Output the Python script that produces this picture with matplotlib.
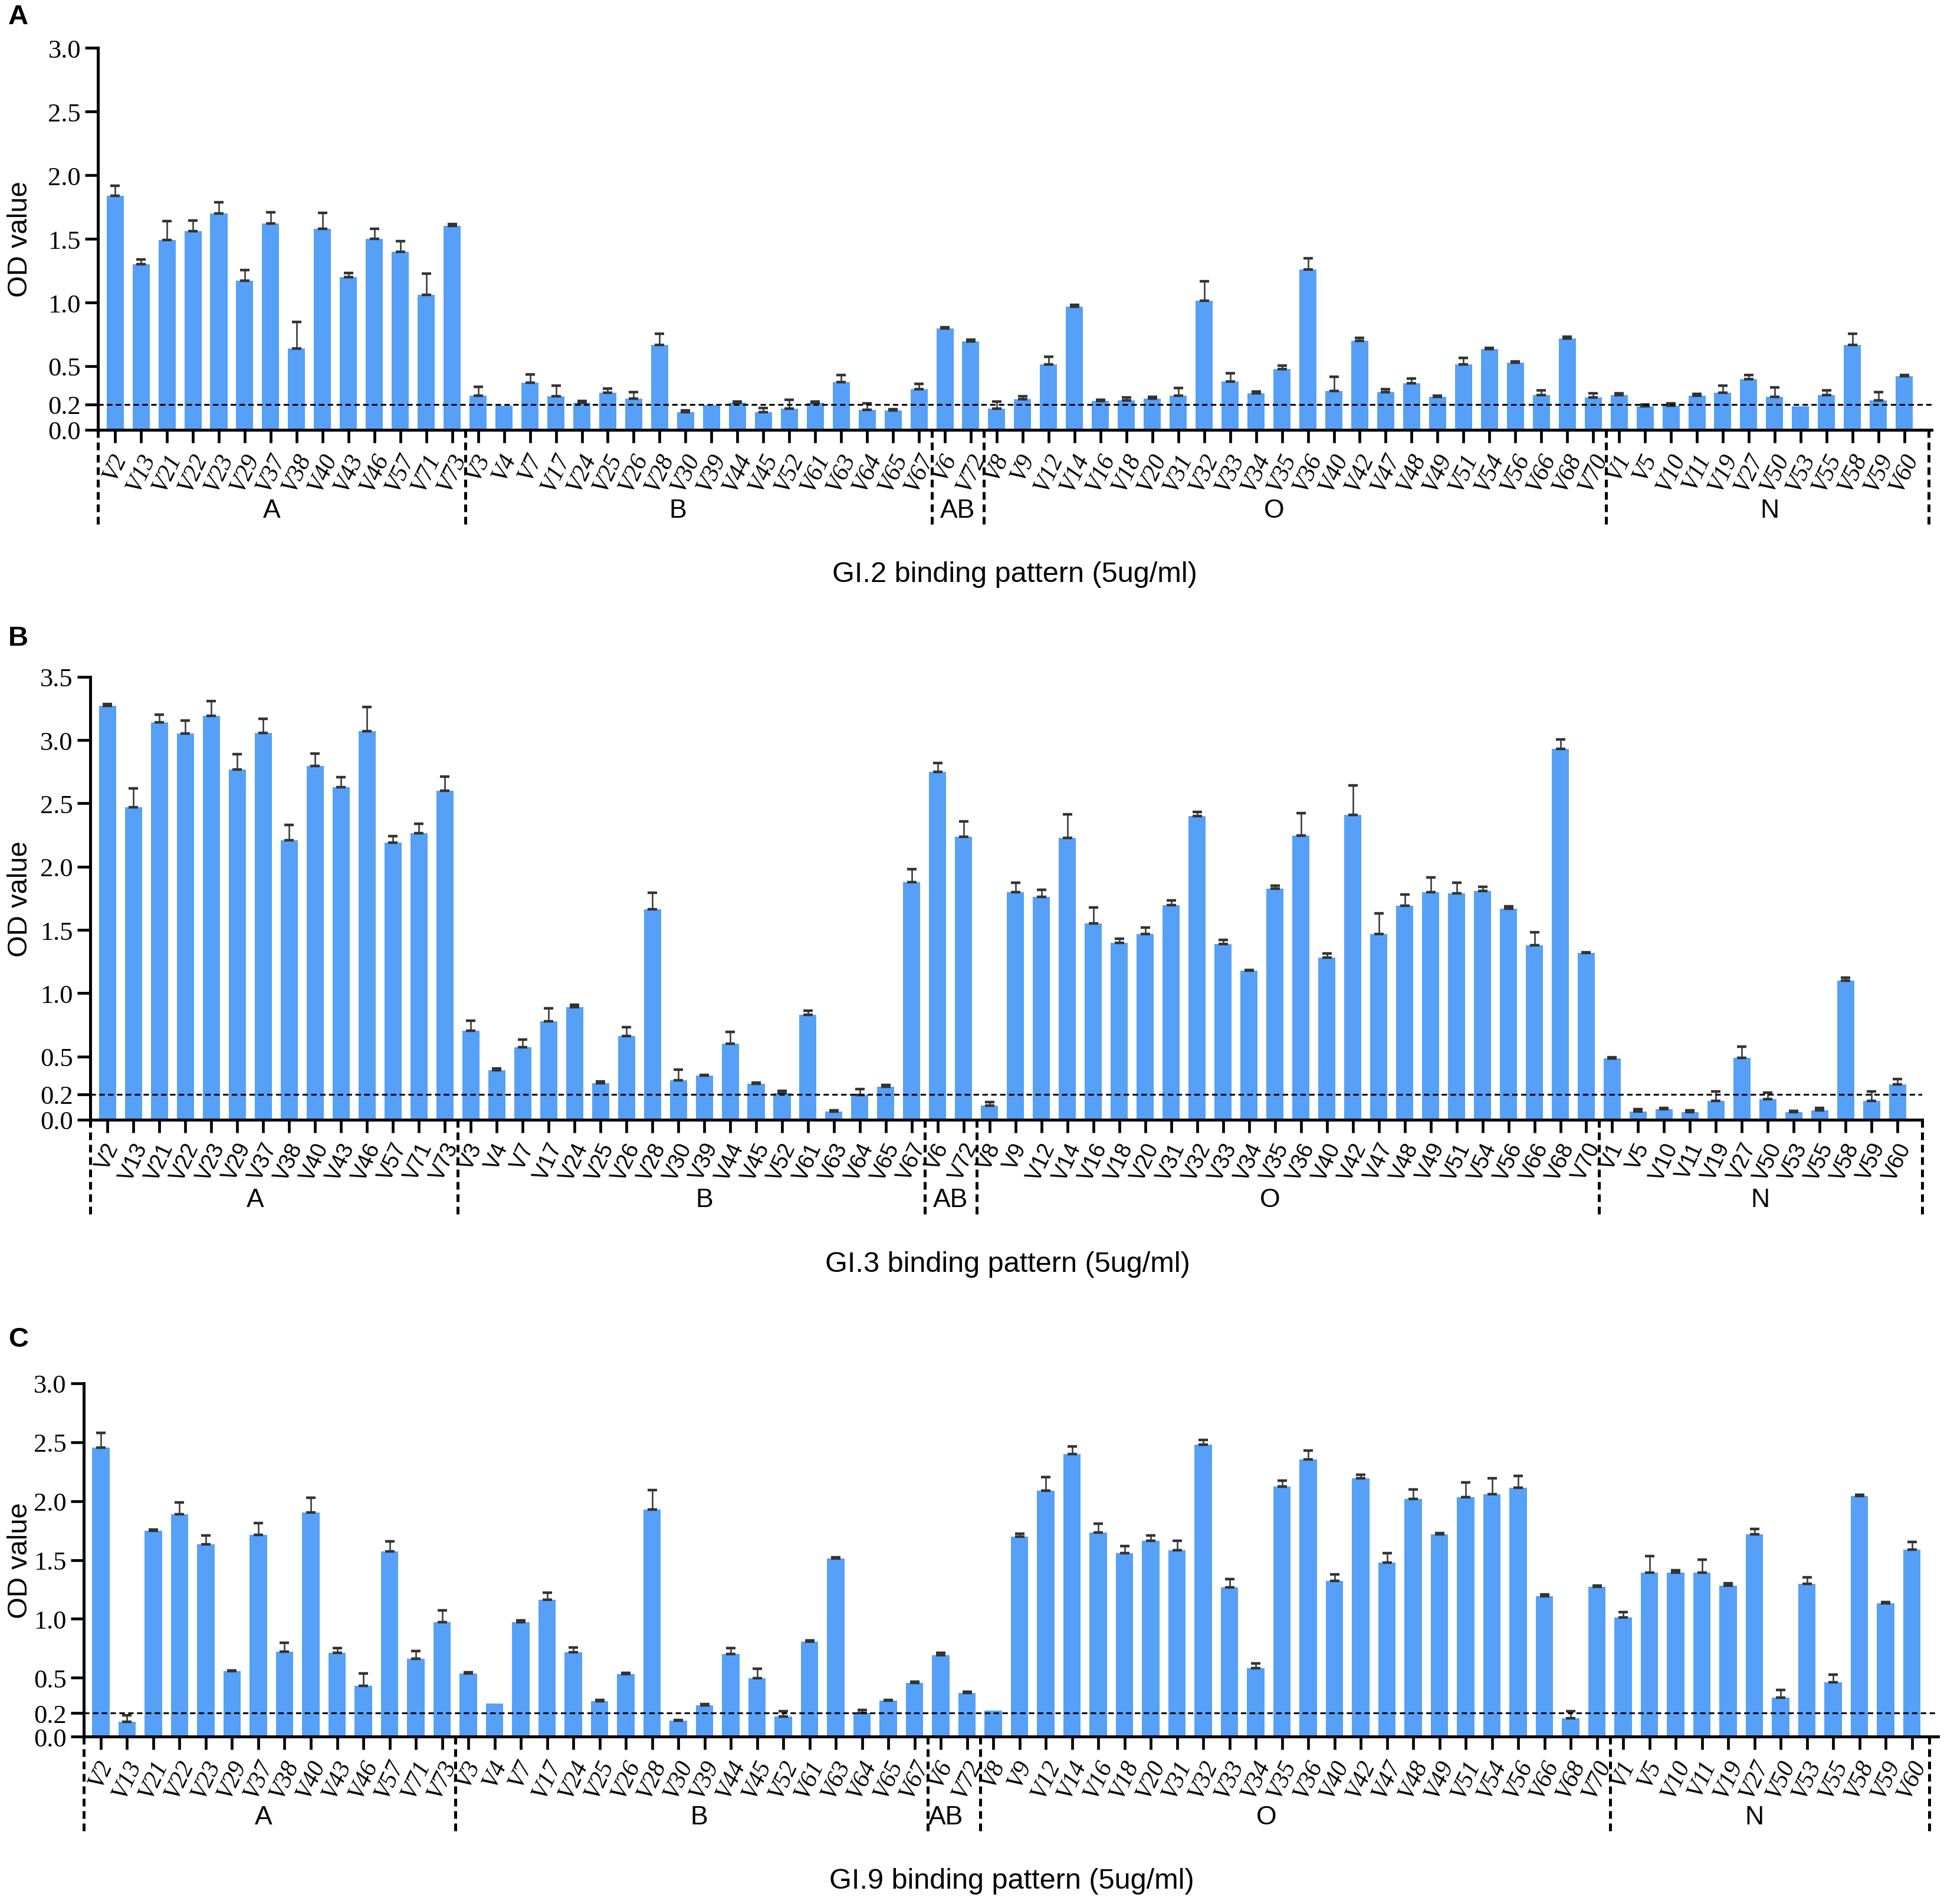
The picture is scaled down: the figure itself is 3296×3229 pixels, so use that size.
import numpy as np
import matplotlib
matplotlib.use('Agg')
import matplotlib.pyplot as plt

# 70 strains, grouped by blood type
labels = ['V2', 'V13', 'V21', 'V22', 'V23', 'V29', 'V37', 'V38', 'V40', 'V43', 'V46', 'V57', 'V71', 'V73',
          'V3', 'V4', 'V7', 'V17', 'V24', 'V25', 'V26', 'V28', 'V30', 'V39', 'V44', 'V45', 'V52', 'V61',
          'V63', 'V64', 'V65', 'V67',
          'V6', 'V72',
          'V8', 'V9', 'V12', 'V14', 'V16', 'V18', 'V20', 'V31', 'V32', 'V33', 'V34', 'V35', 'V36', 'V40',
          'V42', 'V47', 'V48', 'V49', 'V51', 'V54', 'V56', 'V66', 'V68', 'V70',
          'V1', 'V5', 'V10', 'V11', 'V19', 'V27', 'V50', 'V53', 'V55', 'V58', 'V59', 'V60']
groups = ['A', 'B', 'AB', 'O', 'N']
group_sizes = [14, 18, 2, 24, 12]

gi2_mean = [1.84, 1.30, 1.49, 1.56, 1.70, 1.17, 1.62, 0.64, 1.58, 1.20, 1.50, 1.40, 1.06, 1.60,
            0.27, 0.19, 0.37, 0.265, 0.215, 0.29, 0.245, 0.665, 0.14, 0.195, 0.213, 0.14, 0.167, 0.213,
            0.374, 0.157, 0.153, 0.318,
            0.795, 0.694,
            0.167, 0.24, 0.514, 0.967, 0.227, 0.233, 0.244, 0.27, 1.014, 0.378, 0.287, 0.477, 1.258, 0.306,
            0.698, 0.295, 0.364, 0.258, 0.514, 0.632, 0.527, 0.274, 0.717, 0.254,
            0.275, 0.186, 0.192, 0.269, 0.292, 0.399, 0.26, 0.186, 0.272, 0.667, 0.23, 0.422]
gi2_err = [0.077, 0.038, 0.147, 0.083, 0.088, 0.086, 0.088, 0.206, 0.124, 0.03, 0.077, 0.08, 0.168, 0.015,
           0.068, 0.0, 0.064, 0.083, 0.01, 0.035, 0.05, 0.09, 0.012, 0.0, 0.01, 0.033, 0.068, 0.01,
           0.058, 0.05, 0.01, 0.045,
           0.012, 0.012,
           0.054, 0.023, 0.058, 0.014, 0.01, 0.023, 0.015, 0.06, 0.153, 0.068, 0.014, 0.027, 0.089, 0.11,
           0.025, 0.025, 0.041, 0.01, 0.05, 0.01, 0.01, 0.036, 0.015, 0.035,
           0.01, 0.012, 0.015, 0.012, 0.053, 0.03, 0.074, 0.0, 0.038, 0.086, 0.065, 0.008]

gi3_mean = [3.27, 2.47, 3.14, 3.05, 3.19, 2.77, 3.055, 2.21, 2.795, 2.63, 3.07, 2.19, 2.265, 2.6,
            0.705, 0.393, 0.575, 0.78, 0.89, 0.288, 0.663, 1.662, 0.314, 0.347, 0.599, 0.283, 0.209, 0.827,
            0.064, 0.195, 0.259, 1.88,
            2.751, 2.235,
            0.109, 1.797, 1.759, 2.225, 1.55, 1.396, 1.467, 1.695, 2.401, 1.386, 1.177, 1.828, 2.244, 1.279,
            2.411, 1.469, 1.69, 1.797, 1.788, 1.807, 1.667, 1.377, 2.932, 1.317,
            0.484, 0.065, 0.082, 0.059, 0.147, 0.487, 0.163, 0.059, 0.075, 1.098, 0.147, 0.278]
gi3_err = [0.017, 0.147, 0.062, 0.106, 0.12, 0.12, 0.116, 0.12, 0.1, 0.079, 0.19, 0.05, 0.072, 0.113,
           0.079, 0.01, 0.058, 0.1, 0.017, 0.014, 0.069, 0.131, 0.081, 0.008, 0.095, 0.008, 0.017, 0.033,
           0.008, 0.048, 0.014, 0.1,
           0.067, 0.124,
           0.029, 0.074, 0.059, 0.188, 0.128, 0.033, 0.052, 0.036, 0.031, 0.033, 0.008, 0.021, 0.178, 0.033,
           0.233, 0.164, 0.09, 0.117, 0.086, 0.033, 0.019, 0.106, 0.072, 0.008,
           0.008, 0.02, 0.01, 0.013, 0.075, 0.092, 0.052, 0.01, 0.02, 0.026, 0.075, 0.042]

gi9_mean = [2.452, 0.128, 1.748, 1.888, 1.632, 0.554, 1.713, 0.723, 1.901, 0.711, 0.429, 1.575, 0.661, 0.974,
            0.536, 0.279, 0.97, 1.16, 0.718, 0.301, 0.532, 1.929, 0.135, 0.266, 0.702, 0.496, 0.17, 0.808,
            1.514, 0.203, 0.305, 0.455,
            0.691, 0.372,
            0.22, 1.698, 2.089, 2.4, 1.734, 1.559, 1.663, 1.584, 2.479, 1.269, 0.581, 2.124, 2.355, 1.323,
            2.195, 1.478, 2.018, 1.719, 2.035, 2.06, 2.114, 1.19, 0.156, 1.274,
            1.014, 1.39, 1.39, 1.39, 1.283, 1.718, 0.329, 1.299, 0.463, 2.041, 1.133, 1.59]
gi9_err = [0.125, 0.053, 0.01, 0.1, 0.075, 0.008, 0.1, 0.075, 0.128, 0.04, 0.106, 0.081, 0.063, 0.1,
           0.008, 0.0, 0.016, 0.063, 0.038, 0.012, 0.008, 0.164, 0.008, 0.008, 0.05, 0.081, 0.044, 0.008,
           0.008, 0.025, 0.008, 0.01,
           0.019, 0.008,
           0.0, 0.027, 0.116, 0.064, 0.075, 0.06, 0.046, 0.079, 0.042, 0.069, 0.042, 0.048, 0.075, 0.054,
           0.031, 0.081, 0.079, 0.01, 0.123, 0.135, 0.1, 0.015, 0.06, 0.008,
           0.044, 0.144, 0.022, 0.113, 0.019, 0.047, 0.066, 0.053, 0.063, 0.01, 0.01, 0.063]

BAR_COLOR = '#56A0F8'
SERIF_IT = dict(family='Liberation Serif', style='italic', size=15)
SANS_TICK = dict(family='Liberation Sans', size=13.5)

panels = [
    dict(letter='A', letter_y=0.991, title='GI.2 binding pattern (5ug/ml)', mean=gi2_mean, err=gi2_err,
         ymax=3.0, rect=[0.0504, 0.774, 0.9432, 0.2006], xlim=(-0.66, 70.05), right_sep=69.93,
         tickfont=SERIF_IT, grp_x=[6.05, 21.7, 32.5, 44.7, 63.8]),
    dict(letter='B', letter_y=0.6647, title='GI.3 binding pattern (5ug/ml)', mean=gi3_mean, err=gi3_err,
         ymax=3.5, rect=[0.0464, 0.4118, 0.9424, 0.2325], xlim=(-0.67, 69.95), right_sep=69.95,
         tickfont=SANS_TICK, grp_x=[5.7, 23.0, 32.5, 44.8, 63.7]),
    dict(letter='C', letter_y=0.2966, title='GI.9 binding pattern (5ug/ml)', mean=gi9_mean, err=gi9_err,
         ymax=3.0, rect=[0.0431, 0.0879, 0.9539, 0.1855], xlim=(-0.65, 70.0), right_sep=69.65,
         tickfont=SERIF_IT, grp_x=[6.2, 22.8, 32.2, 44.4, 63.0]),
]

FIG_W, FIG_H, DPI = 16.48, 16.15, 200
fig = plt.figure(figsize=(FIG_W, FIG_H), dpi=DPI)

x = np.arange(len(labels))
bounds = np.cumsum(group_sizes)[:-1] - 0.5

for p in panels:
    ax = fig.add_axes(p['rect'])
    mean = np.array(p['mean'])
    err = np.array(p['err'])

    ax.bar(x, mean, width=0.66, color=BAR_COLOR, zorder=2)
    m = err > 0
    ax.errorbar(x[m], mean[m], yerr=[np.zeros(m.sum()), err[m]], fmt='none',
                ecolor='#333333', elinewidth=0.9, capsize=2.9, capthick=1.6, zorder=3)

    # cutoff line
    ax.axhline(0.2, color='black', lw=1.1, ls=(0, (3, 1.9)), zorder=4)

    ax.set_xlim(*p['xlim'])
    ax.set_ylim(0, p['ymax'])
    yt = [0.0, 0.2] + list(np.arange(0.5, p['ymax'] + 0.01, 0.5))
    ax.set_yticks(yt)
    ax.set_yticklabels([f'{v:.1f}' for v in yt], family='Liberation Serif', size=16)
    ax.set_xticks(x)
    ax.set_xticklabels(labels, rotation=65, ha='center', va='top', **p['tickfont'])

    for s in ['top', 'right']:
        ax.spines[s].set_visible(False)
    for s in ['left', 'bottom']:
        ax.spines[s].set_linewidth(1.8)
    ax.tick_params(axis='both', direction='out', length=8, width=1.7)
    ax.tick_params(axis='x', pad=4)
    ax.tick_params(axis='y', pad=2.5)

    # group separators below the axis
    h_px = p['rect'][3] * FIG_H * DPI
    y_end = -160 / h_px
    trans = ax.get_xaxis_transform()
    for bx in [p['xlim'][0]] + list(bounds) + [p['right_sep']]:
        ax.plot([bx, bx], [0, y_end], transform=trans, color='black', lw=1.8,
                ls=(0, (2.6, 1.6)), clip_on=False, zorder=5)

    for g, gx in zip(groups, p['grp_x']):
        ax.annotate(g, xy=(gx, 0), xycoords=trans, xytext=(0, -49), textcoords='offset points',
                    ha='center', va='center', family='Liberation Sans', size=16)

    ax.annotate(p['title'], xy=(34.7, 0), xycoords=trans, xytext=(0, -88), textcoords='offset points',
                ha='center', va='center', family='Liberation Sans', size=17.5)

    yc = p['rect'][1] + p['rect'][3] / 2
    fig.text(0.0103, yc, 'OD value', rotation=90, ha='center', va='center',
             family='Liberation Sans', size=17)
    fig.text(0.0094, p['letter_y'], p['letter'], ha='center', va='center',
             family='Liberation Sans', weight='bold', size=17)

fig.savefig('out.png', dpi=DPI)
